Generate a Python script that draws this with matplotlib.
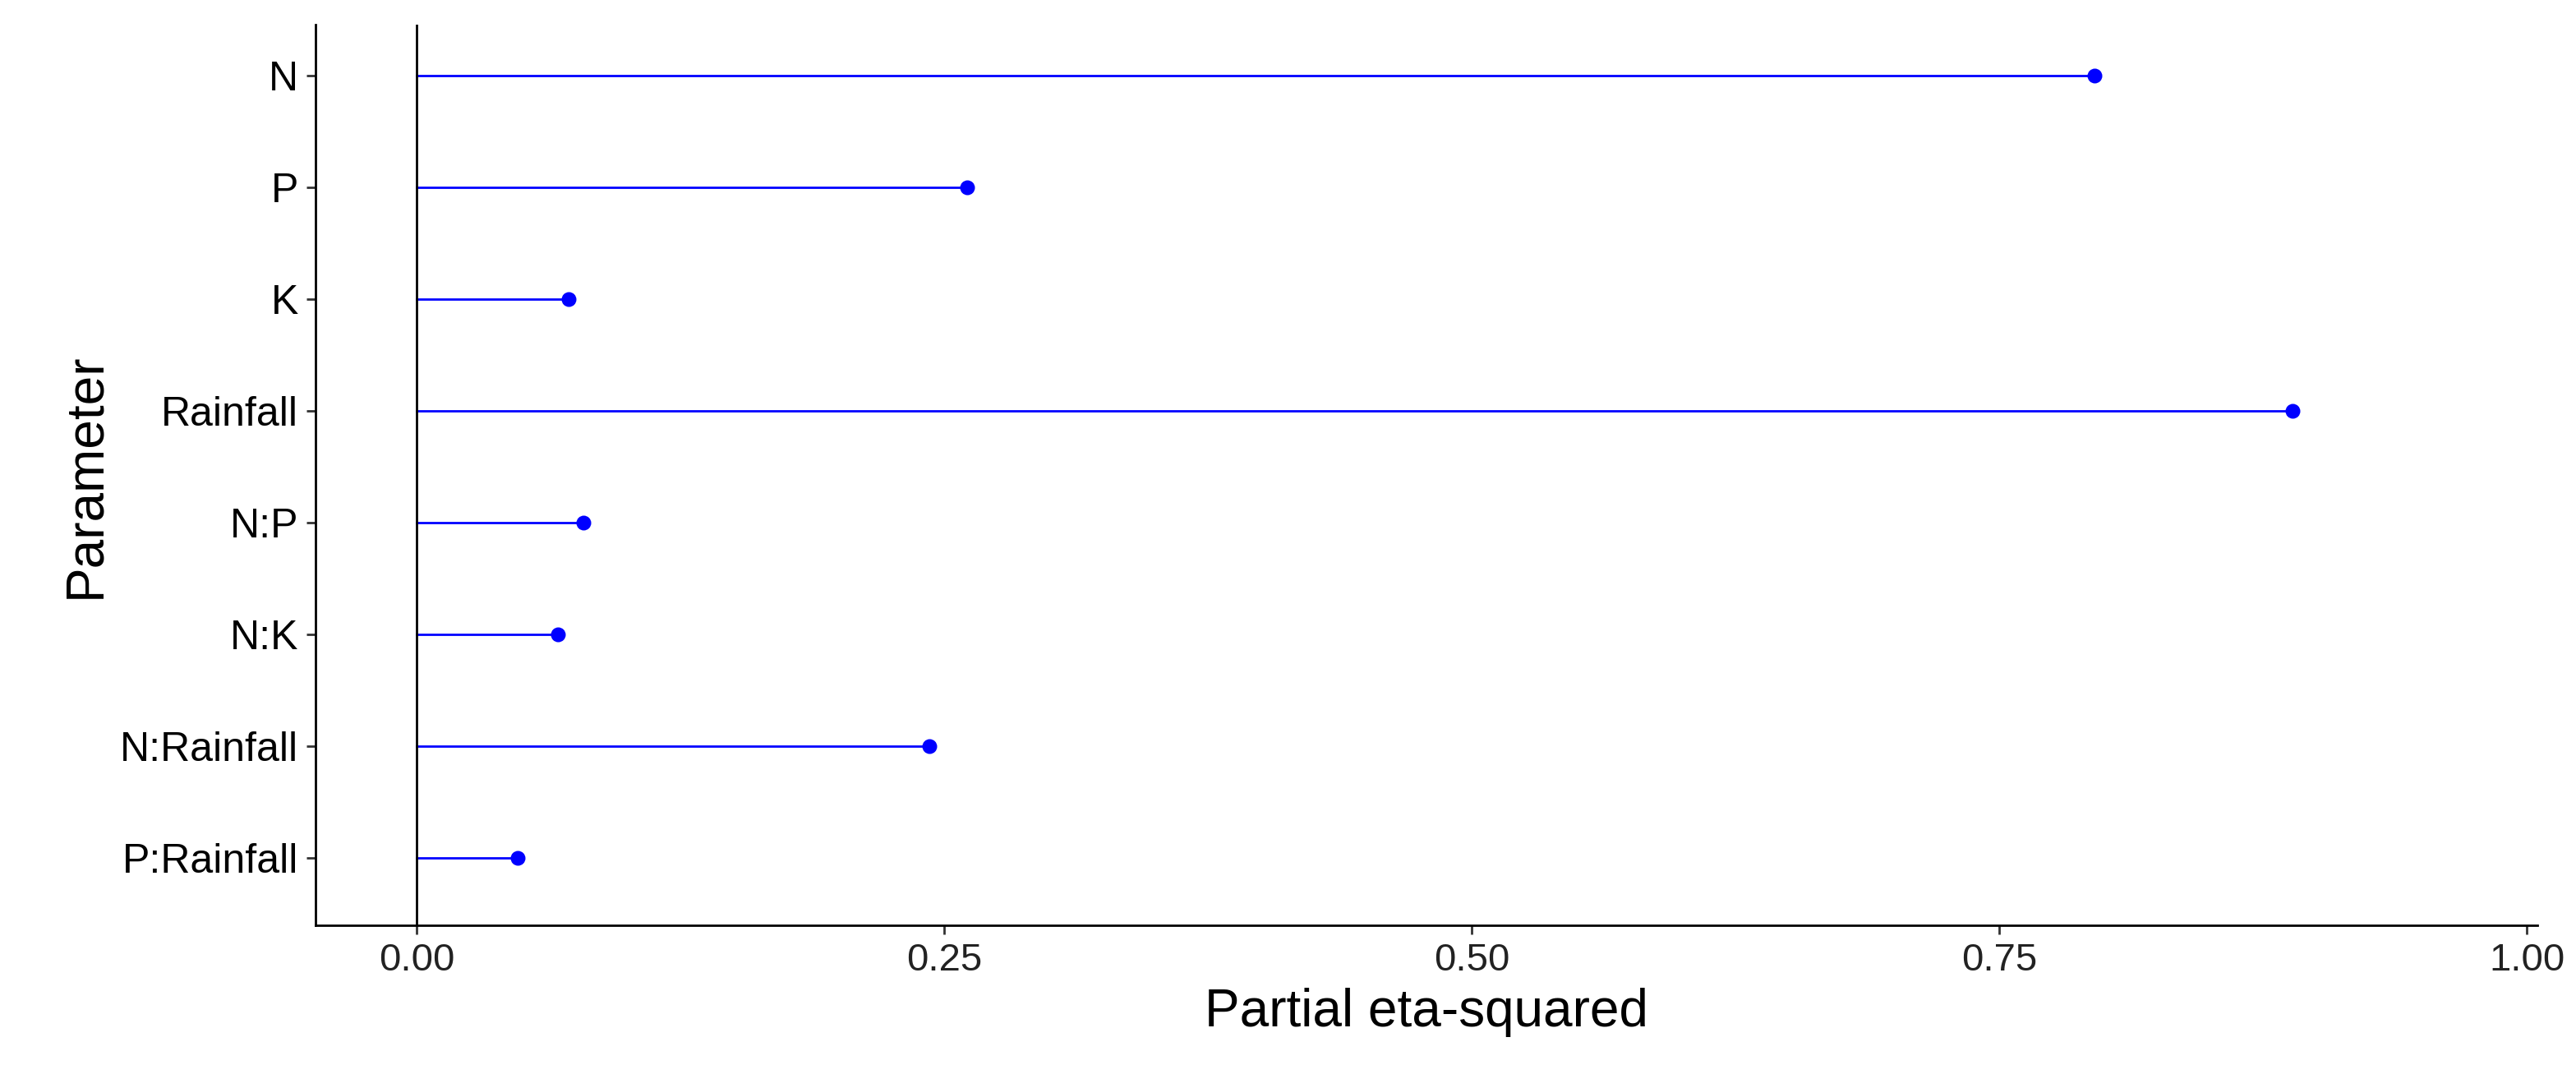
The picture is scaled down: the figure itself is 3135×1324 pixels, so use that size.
import matplotlib
matplotlib.use("Agg")
import matplotlib.pyplot as plt

plt.rcParams['font.family'] = ['Liberation Sans', 'DejaVu Sans']

params = ["N", "P", "K", "Rainfall", "N:P", "N:K", "N:Rainfall", "P:Rainfall"]
eta_sq = [0.795, 0.261, 0.072, 0.889, 0.079, 0.067, 0.243, 0.048]
xticks = [0.00, 0.25, 0.50, 0.75, 1.00]
xticklabels = ["0.00", "0.25", "0.50", "0.75", "1.00"]

fig = plt.figure(figsize=(15.675, 6.62), dpi=200)
ax = fig.add_axes([0.1224, 0.1495, 0.8626, 0.8275])
n = len(params)
ys = [n - 1 - i for i in range(n)]
for y, v in zip(ys, eta_sq):
    ax.plot([0, v], [y, y], color="blue", lw=1.0)
ax.scatter(eta_sq, ys, color="blue", s=30, zorder=3)
ax.axvline(0, color="black", lw=1.0)
ax.set_xlim(-0.048, 1.005)
ax.set_ylim(-0.6, n - 1 + 0.45)
ax.set_yticks(ys)
ax.set_yticklabels(params, fontsize=18)
ax.set_xticks(xticks)
ax.set_xticklabels(xticklabels, fontsize=17, color="#222222")
ax.set_xlabel("Partial eta-squared", fontsize=23)
ax.set_ylabel("Parameter", fontsize=23)
for s in ["top", "right"]:
    ax.spines[s].set_visible(False)
for s in ["left", "bottom"]:
    ax.spines[s].set_linewidth(1.0)
ax.tick_params(length=4, width=1.0, color="#333333")
fig.savefig("out.png", dpi=200)
